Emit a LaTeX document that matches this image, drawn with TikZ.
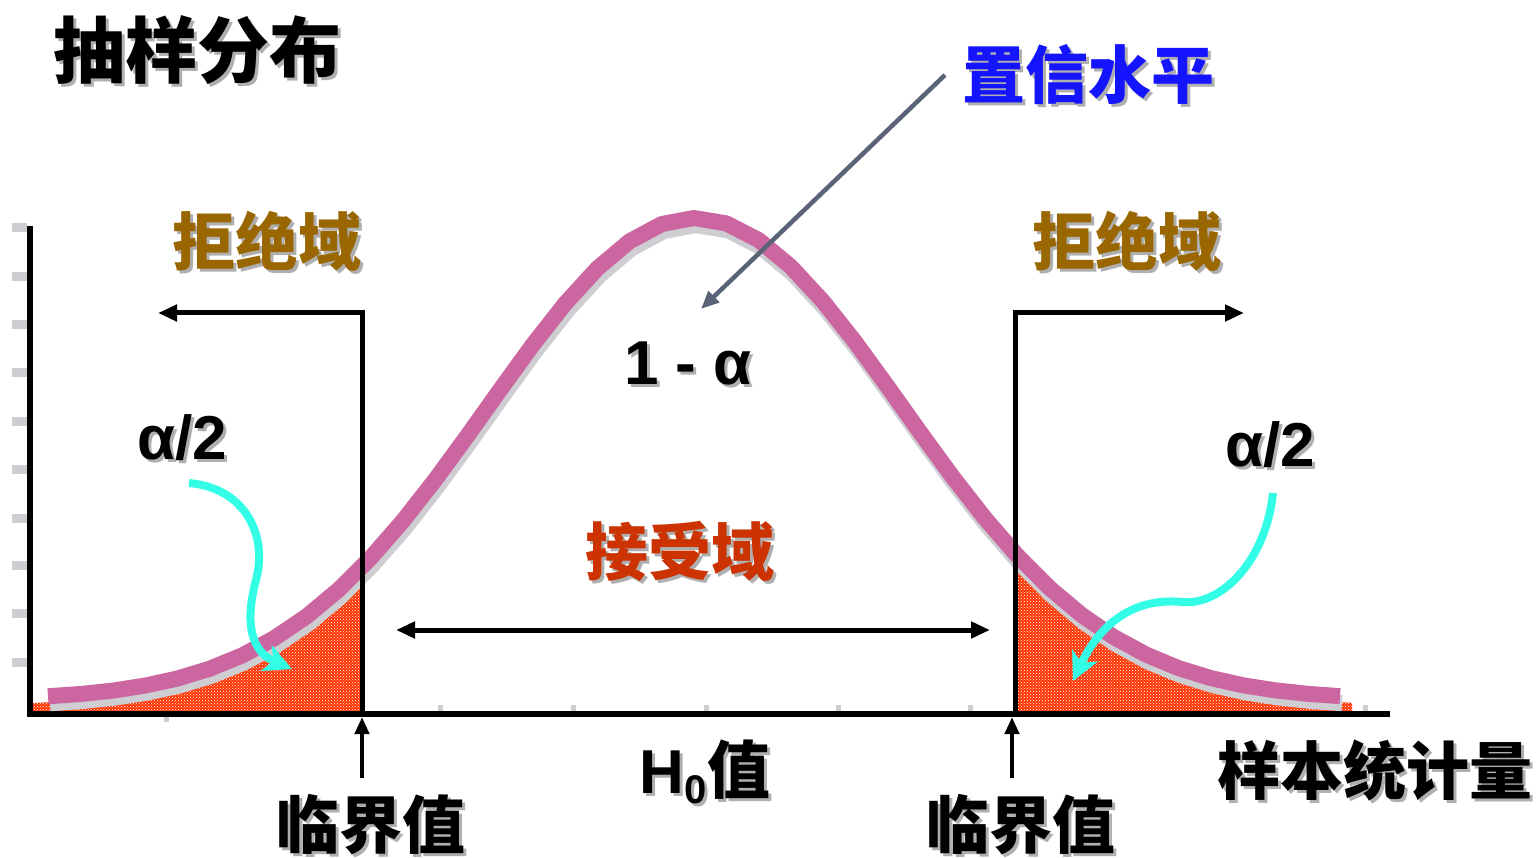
\documentclass[tikz,border=0pt]{standalone}
\usepackage{fontspec}
\setmainfont{Liberation Sans}
\newfontfamily\cjk{Noto Sans CJK SC}
\usetikzlibrary{arrows.meta,patterns,calc}
\definecolor{pinkc}{RGB}{204,102,160}
\definecolor{shadowc}{RGB}{205,205,210}
\definecolor{redc}{RGB}{255,51,0}
\definecolor{cyanc}{RGB}{51,255,230}
\definecolor{slatec}{RGB}{90,99,120}
\definecolor{brownc}{RGB}{153,102,0}
\definecolor{accc}{RGB}{204,51,0}
\definecolor{bluec}{RGB}{20,20,255}
\definecolor{tshadow}{RGB}{175,175,175}
\newcommand{\cjkf}[1]{\cjk\bfseries\fontsize{#1}{#1}\selectfont}
\newcommand{\latf}{\bfseries\fontsize{62}{62}\selectfont}
\newcommand{\shnode}[5]{%
  \node[text=tshadow,inner sep=0pt] at (#2+3,#3+3) {#5};
  \node[text=#4,inner sep=0pt] (#1) at (#2,#3) {#5};}
\begin{document}
\begin{tikzpicture}[x=1pt,y=-1pt,
  declare function={f(\t)=700-482*exp(-((\t-695)/293.5)*((\t-695)/293.5));},
  axisline/.style={line width=6.5pt,black},
  tickmark/.style={line width=9pt,shadowc},
  smalltick/.style={line width=5pt,shadowc},
  curveline/.style={line width=16pt,pinkc,line join=round},
  curveshadow/.style={line width=16pt,shadowc,line join=round},
  redregion/.style={fill=redc,postaction={pattern=crosshatch dots,pattern color=white}},
  critline/.style={line width=5pt,black},
  blackarrow/.style={line width=5pt,black,-{Triangle[length=19pt,width=16pt]}},
  cyanarrow/.style={line width=8pt,cyanc,-{Stealth[length=28pt,width=28pt,inset=8pt]}},
  slatearrow/.style={line width=4.5pt,slatec,-{Triangle[length=18pt,width=15pt]}}]
\useasboundingbox (0,0) rectangle (1539,858);
% red shaded tails
\path[redregion] (33,711) -- plot[domain=33:362,samples=30] (\x,{f(\x)+6}) -- (362,711) -- cycle;
\path[redregion] (1015,711) -- plot[domain=1015:1352,samples=30] (\x,{f(\x)+6}) -- (1352,711) -- cycle;
% y axis ticks
\foreach \yy in {228,277,325,373,421,469,518,565,613,662}
  \draw[tickmark] (12,\yy) -- (27,\yy);
% x axis small ticks
\foreach \xx in {440,573,706,838,970,1365}
  \draw[smalltick] (\xx,705) -- (\xx,711);
\draw[smalltick] (166,717) -- (166,722);
% axes
\draw[axisline] (30,226) -- (30,717);
\draw[axisline] (27,714) -- (1390,714);
% curve
\draw[curveshadow] plot[domain=48:1340,samples=41] ({\x+2},{f(\x)+7});
\draw[curveline] plot[domain=48:1340,samples=41] (\x,{f(\x)});
% critical value lines
\coordinate (lc) at (362,714);
\coordinate (lt) at (362,313);
\coordinate (la) at (158,313);
\coordinate (rc) at (1015,714);
\coordinate (rt) at (1015,313);
\coordinate (ra) at (1244,313);
\draw[critline] (lc) -- (lt);
\draw[blackarrow] ($(lt)+(2.5,0)$) -- (la);
\draw[critline] (rc) -- (rt);
\draw[blackarrow] ($(rt)+(-2.5,0)$) -- (ra);
% acceptance double arrow
\coordinate (al) at (396,630);
\coordinate (ar) at (990,630);
\draw[line width=5pt,black,{Triangle[length=19pt,width=16pt]}-{Triangle[length=19pt,width=16pt]}] (al) -- (ar);
% critical value up arrows
\coordinate (lu1) at (362,778);
\coordinate (lu2) at (362,717);
\coordinate (ru1) at (1012,778);
\coordinate (ru2) at (1012,717);
\draw[line width=4.5pt,black,-{Triangle[length=17pt,width=14pt]}] (lu1) -- (lu2);
\draw[line width=4.5pt,black,-{Triangle[length=17pt,width=14pt]}] (ru1) -- (ru2);
% confidence arrow
\coordinate (cs) at (945,75);
\coordinate (ce) at (701,309);
\draw[slatearrow] (cs) -- (ce);
% cyan arrows
\coordinate (c1s) at (189,483);
\coordinate (c1e) at (292,669);
\coordinate (c2s) at (1273,493);
\coordinate (c2e) at (1073,681);
\draw[cyanarrow] (c1s) .. controls (245,488) and (268,535) .. (256,580)
  .. controls (244,625) and (252,652) .. (c1e);
\draw[cyanarrow] (c2s) .. controls (1266,560) and (1222,606) .. (1182,602)
  .. controls (1130,597) and (1098,628) .. (c2e);
% texts
\shnode{title}{197}{50}{black}{\cjkf{72}抽样分布}
\shnode{conf}{1088}{75}{bluec}{\cjkf{63}置信水平}
\shnode{rejl}{267}{241}{brownc}{\cjkf{63}拒绝域}
\shnode{rejr}{1127}{241}{brownc}{\cjkf{63}拒绝域}
\shnode{onema}{688}{363}{black}{\latf 1 - α}
\shnode{al2}{182}{438}{black}{\latf α/2}
\shnode{ar2}{1270}{445}{black}{\latf α/2}
\shnode{acc}{680}{551}{accc}{\cjkf{63}接受域}
\shnode{hval}{705}{772}{black}{\latf H\raisebox{-10pt}{\fontsize{40}{40}\selectfont 0}\cjkf{63}值}
\shnode{critl}{371}{825}{black}{\cjkf{63}临界值}
\shnode{critr}{1021}{825}{black}{\cjkf{63}临界值}
\shnode{stat}{1375}{770}{black}{\cjkf{63}样本统计量}
\end{tikzpicture}
\end{document}
